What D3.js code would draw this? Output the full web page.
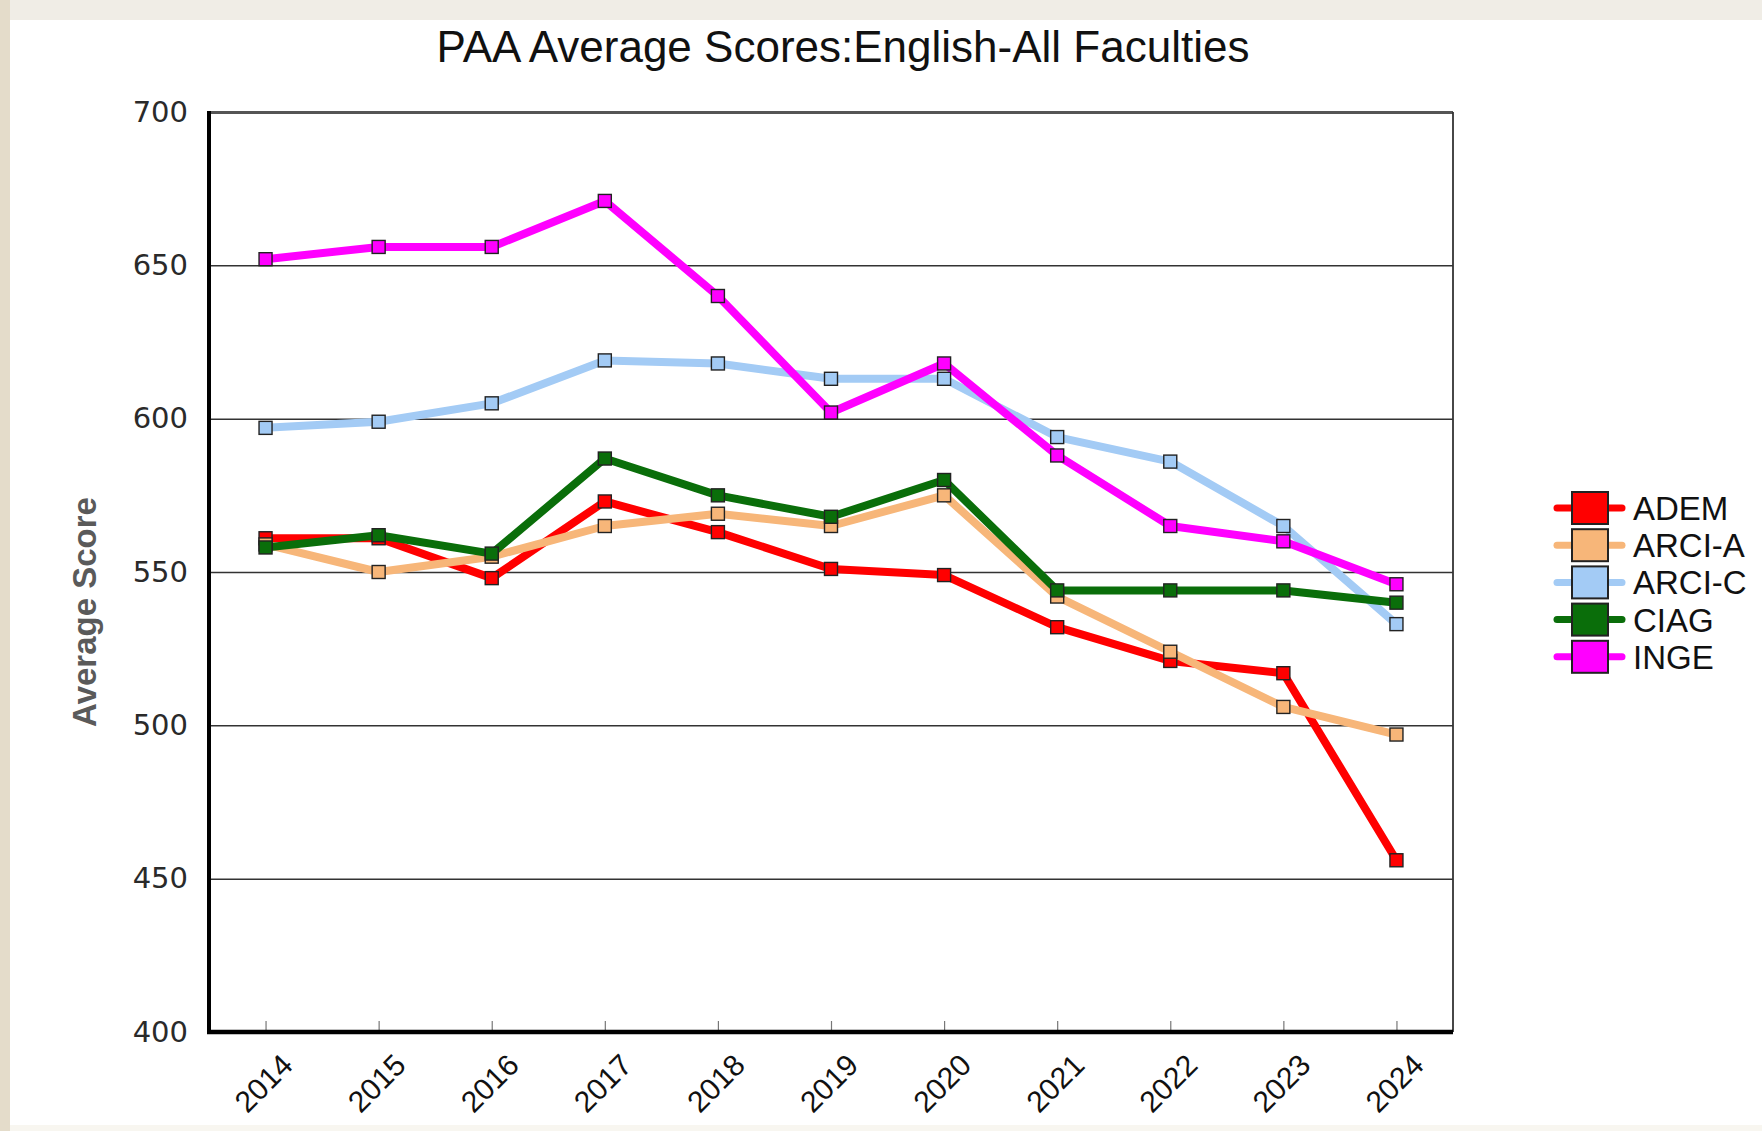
<!DOCTYPE html>
<html>
<head>
<meta charset="utf-8">
<script src="https://cdn.jsdelivr.net/npm/d3@7"></script>
<style>
  html, body { margin: 0; padding: 0; background: #fff; }
  svg { display: block; }
</style>
</head>
<body>
<svg width="1762" height="1131"></svg>
<script>
// values
var years = ['2014', '2015', '2016', '2017', '2018', '2019', '2020', '2021', '2022', '2023', '2024'];
var seriesNames = ['ADEM', 'ARCI-A', 'ARCI-C', 'CIAG', 'INGE'];
var adem  = [561, 561, 548, 573, 563, 551, 549, 532, 521, 517, 456];
var arciA = [559, 550, 555, 565, 569, 565, 575, 542, 524, 506, 497];
var arciC = [597, 599, 605, 619, 618, 613, 613, 594, 586, 565, 533];
var ciag  = [558, 562, 556, 587, 575, 568, 580, 544, 544, 544, 540];
var inge  = [652, 656, 656, 671, 640, 602, 618, 588, 565, 560, 546];
var yTicks = [400, 450, 500, 550, 600, 650, 700];
var colors = ['#ff0000', '#f7b679', '#a3cbf5', '#0a6e0a', '#ff00ff'];

function main() {
    var svg = d3.select('svg');
    var left = 209, right = 1453, top = 112, bottom = 1032;
    var width = right - left, height = bottom - top;

    // slide frame around the picture
    svg.append('rect').attr('x', 0).attr('y', 0).attr('width', 1762).attr('height', 20).attr('fill', '#f0ede6');
    svg.append('rect').attr('x', 0).attr('y', 0).attr('width', 10).attr('height', 1131).attr('fill', '#e4dcca');
    svg.append('rect').attr('x', 10).attr('y', 1125).attr('width', 1752).attr('height', 6).attr('fill', '#f8f6f0');

    var xScale = d3.scalePoint().domain(years).range([0, width]).padding(0.5);
    var yScale = d3.scaleLinear().domain([400, 700]).range([height, 0]);

    var g = svg.append('g').attr('transform', 'translate(' + left + ',' + top + ')');

    // title
    svg.append('text')
       .attr('x', 843)
       .attr('y', 62)
       .attr('text-anchor', 'middle')
       .style('font-family', 'Liberation Sans, Arial, sans-serif')
       .style('font-size', '44px')
       .attr('fill', '#111')
       .text('PAA Average Scores:English-All Faculties');

    // y axis with gridlines
    var yAxis = g.append('g')
       .call(d3.axisLeft(yScale).tickValues(yTicks).tickSize(-width).tickPadding(21).tickFormat(function(d) {return d;}));
    yAxis.select('.domain').remove();
    yAxis.selectAll('.tick line')
       .attr('stroke', function(d) {return d == 700 ? '#555' : '#333';})
       .attr('stroke-width', function(d) {return d == 700 ? 3 : 1.5;});
    yAxis.selectAll('.tick text')
       .style('font-family', 'DejaVu Sans, Verdana, sans-serif')
       .style('font-size', '29px')
       .attr('fill', '#2a2a2a');

    // y axis label
    svg.append('text')
       .attr('transform', 'translate(96,612) rotate(-90)')
       .attr('text-anchor', 'middle')
       .style('font-family', 'Liberation Sans, Arial, sans-serif')
       .style('font-size', '33px')
       .style('font-weight', 'bold')
       .attr('fill', '#5a5a5a')
       .text('Average Score');

    // x axis, small ticks pointing up
    var xAxis = g.append('g')
       .attr('transform', 'translate(0,' + height + ')')
       .call(d3.axisBottom(xScale).tickSize(-11).tickFormat(''));
    xAxis.select('.domain').remove();
    xAxis.selectAll('.tick line').attr('stroke', '#777').attr('stroke-width', 1.2);

    g.selectAll('.xlabel')
     .data(years)
     .enter().append('text')
     .attr('class', 'xlabel')
     .attr('transform', function(d) {return 'translate(' + (xScale(d) + 29) + ',' + (height + 35) + ') rotate(-45)';})
     .attr('text-anchor', 'end')
     .style('font-family', 'Liberation Sans, Arial, sans-serif')
     .style('font-size', '30px')
     .attr('fill', '#111')
     .text(function(d) {return d;});

    // frame: right border thin, left and bottom thick
    g.append('line').attr('x1', width).attr('x2', width).attr('y1', 0).attr('y2', height)
     .attr('stroke', '#333').attr('stroke-width', 1.8);
    g.append('line').attr('x1', 0).attr('x2', 0).attr('y1', -1).attr('y2', height + 2)
     .attr('stroke', '#000').attr('stroke-width', 4);
    g.append('line').attr('x1', -2).attr('x2', width).attr('y1', height).attr('y2', height)
     .attr('stroke', '#000').attr('stroke-width', 4.5);

    var allSeries = [adem, arciA, arciC, ciag, inge];
    var series = seriesNames.map(function(name, i) {
        return {name: name, color: colors[i], values: allSeries[i].map(function(v, j) {return {year: years[j], value: v};})};
    });

    var line = d3.line()
        .x(function(d) {return xScale(d.year);})
        .y(function(d) {return yScale(d.value);});

    g.selectAll('.series')
     .data(series)
     .enter().append('path')
     .attr('class', 'series')
     .attr('d', function(d) {return line(d.values);})
     .attr('fill', 'none')
     .attr('stroke', function(d) {return d.color;})
     .attr('stroke-width', 8)
     .attr('stroke-linejoin', 'round');

    series.forEach(function(s) {
        g.selectAll(null)
         .data(s.values)
         .enter().append('rect')
         .attr('x', function(d) {return xScale(d.year) - 6.5;})
         .attr('y', function(d) {return yScale(d.value) - 6.5;})
         .attr('width', 13)
         .attr('height', 13)
         .attr('fill', s.color)
         .attr('stroke', '#222')
         .attr('stroke-width', 1.4);
    });

    // legend
    var legend = svg.append('g').attr('transform', 'translate(1557,508)');
    var item = legend.selectAll('.item')
       .data(series)
       .enter().append('g')
       .attr('class', 'item')
       .attr('transform', function(d, i) {return 'translate(0,' + (i * 37.2) + ')';});
    item.append('line')
        .attr('x1', 0).attr('x2', 65).attr('y1', 0).attr('y2', 0)
        .attr('stroke', function(d) {return d.color;})
        .attr('stroke-width', 7)
        .attr('stroke-linecap', 'round');
    item.append('rect')
        .attr('x', 15).attr('y', -16).attr('width', 36).attr('height', 32)
        .attr('fill', function(d) {return d.color;})
        .attr('stroke', '#222')
        .attr('stroke-width', 2);
    item.append('text')
        .attr('x', 76)
        .attr('y', 12)
        .style('font-family', 'Liberation Sans, Arial, sans-serif')
        .style('font-size', '33px')
        .attr('fill', '#111')
        .text(function(d) {return d.name;});
}
main();
</script>
</body>
</html>
